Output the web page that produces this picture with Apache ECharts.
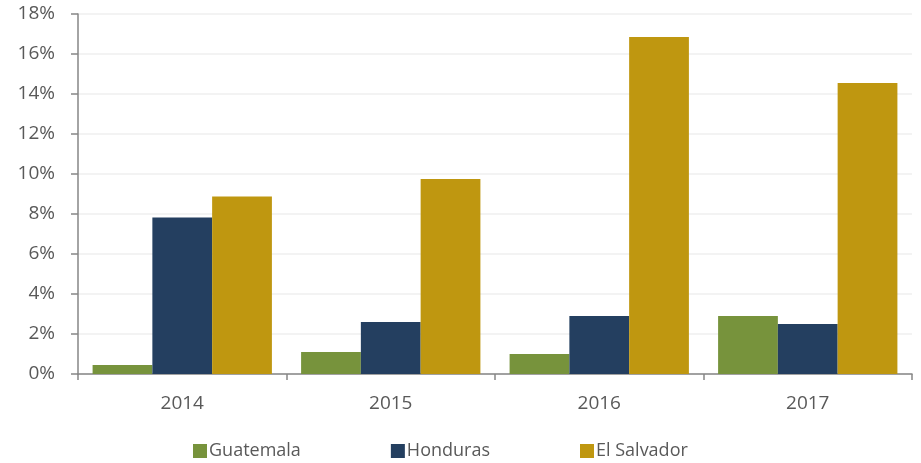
<!DOCTYPE html>
<html>
<head>
<meta charset="utf-8">
<script src="https://cdn.jsdelivr.net/npm/echarts@6/dist/echarts.min.js"></script>
<style>html,body{margin:0;padding:0;background:#fff}#c{width:921px;height:463px}</style>
</head>
<body>
<div id="c"></div>
<script>
const categories = ['2014', '2015', '2016', '2017'];
const guatemala = [0.45, 1.1, 1.0, 2.9];
const honduras = [7.83, 2.6, 2.9, 2.5];
const elSalvador = [8.87, 9.75, 16.85, 14.55];
const seriesNames = ['Guatemala', 'Honduras', 'El Salvador'];
const colors = ['#77933C', '#243F60', '#BF9710'];

const chart = echarts.init(document.getElementById('c'));
const font = 'Open Sans, sans-serif';
chart.setOption({
  animation: false,
  color: colors,
  grid: { left: 78, right: 9, top: 14, bottom: 89, containLabel: false },
  legend: {
    data: seriesNames,
    left: 188, top: 437,
    itemWidth: 14, itemHeight: 14, itemGap: 90,
    icon: 'rect',
    textStyle: { fontFamily: font, fontSize: 18, color: '#595959', padding: [0, 0, 0, -3] }
  },
  xAxis: {
    type: 'category',
    data: categories,
    axisLine: { lineStyle: { color: '#868686', width: 1.5 } },
    axisTick: { show: true, length: 6, lineStyle: { color: '#868686', width: 1.5 } },
    axisLabel: { fontFamily: font, fontSize: 19, color: '#595959', margin: 20 }
  },
  yAxis: {
    type: 'value',
    min: 0, max: 18, interval: 2,
    axisLine: { show: true, lineStyle: { color: '#868686', width: 1.5 } },
    axisTick: { show: true, length: 7, lineStyle: { color: '#868686', width: 1.5 } },
    axisLabel: { formatter: '{value}%', fontFamily: font, fontSize: 19, color: '#595959', margin: 23 },
    splitLine: { lineStyle: { color: '#EFEFEF', width: 1.5 } }
  },
  series: [
    { name: seriesNames[0], type: 'bar', data: guatemala, barGap: '0%', barCategoryGap: '14%' },
    { name: seriesNames[1], type: 'bar', data: honduras, barGap: '0%', barCategoryGap: '14%' },
    { name: seriesNames[2], type: 'bar', data: elSalvador, barGap: '0%', barCategoryGap: '14%' }
  ]
});
</script>
</body>
</html>
